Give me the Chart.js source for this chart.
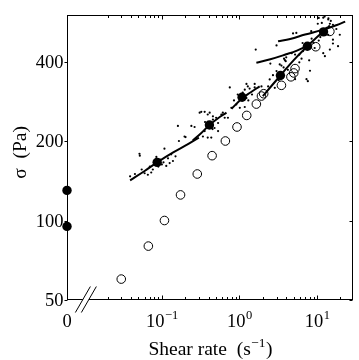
<!DOCTYPE html>
<html><head><meta charset="utf-8">
<script src="https://cdn.jsdelivr.net/npm/chart.js@4.4.1/dist/chart.umd.min.js"></script>
<style>html,body{margin:0;padding:0;background:#fff;} canvas{display:block;}</style>
</head><body>
<canvas id="c" width="359" height="360"></canvas>
<script>
// ---- axis ranges & ticks ----
const X_MIN = 0.006, X_MAX = 29;      // x = 0 is drawn at X_MIN (broken axis)
const Y_MIN = 50, Y_MAX = 600;
const BREAK_AT = 0.0105;               // position of the "//" axis break
const xMajorTicks = [0.1, 1, 10];
const xMajorLabels = [['10', '\u22121'], ['10', '0'], ['10', '1']];
const xZeroLabel = '0';
const xMinorTicks = [0.02,0.03,0.04,0.05,0.06,0.07,0.08,0.09,0.2,0.3,0.4,0.5,0.6,0.7,0.8,0.9,2,3,4,5,6,7,8,9,20];
const yTicks = [50, 100, 200, 400];
const yTickLabels = ['50', '100', '200', '400'];

// ---- data ----
// steady-state flow curve (open circles)
const openX = [0.030,0.067,0.108,0.174,0.286,0.444,0.658,0.929,1.24,1.65,1.92,2.05,3.47,4.6,5.0,5.2,9.6,14.6];
const openY = [60,80,100,125,150,176,200,226,250,276,296,302,325,350,362,376,455,520];
// averaged values (filled circles), x = 0 -> yield stresses
const filledX = [0,0,0.087,0.41,1.08,3.37,7.5,12.1];
const filledY = [130,95,166,230,293,354,457,518];
// fitted curves
const fitA = [[0.039,142],[0.06,154],[0.087,166],[0.14,181],[0.22,195],[0.3,206]];
const fitB = [[0.25,201],[0.32,214],[0.41,230],[0.53,244],[0.68,256]];
const fitC = [[0.79,265],[1.08,290],[1.4,306],[1.82,322]];
const fitD = [[2.0,296],[3.37,354],[5,405],[7.5,457],[10,495],[14.6,548]];
const fitE = [[1.65,396],[2.5,408],[4,426],[5.5,440],[7.3,457]];
const fitF = [[3.14,477],[4.5,487],[7,506],[12,528],[18,550],[23,566]];
// raw measurements (small dots)
const rawDots = [
 [0.039,147],[0.045,150],[0.052,176],[0.0515,179],[0.055,156],[0.06,151],[0.066,149],[0.07,160],[0.073,152],[0.0765,156],
 [0.085,174],[0.09,160],[0.095,170],[0.1,163],[0.105,166],[0.108,187],[0.114,161],[0.12,172],[0.126,165],[0.132,178],
 [0.139,168],[0.15,175],[0.161,228],[0.166,200],[0.202,207],[0.24,228],
 [0.196,208],[0.264,226],[0.307,256],[0.322,258],[0.338,208],[0.356,218],[0.356,258],[0.39,206],[0.39,252],[0.413,256],
 [0.433,206],[0.455,248],[0.455,241],[0.477,224],[0.50,245],[0.53,234],[0.53,218],[0.584,252],[0.61,256],[0.645,245],
 [0.71,245],[0.36,236],[0.45,222],
 [0.75,319],[0.786,267],[0.91,275],[1.01,267],[1.17,313],[1.17,269],[1.23,291],[1.23,329],[1.28,322],[1.35,316],
 [1.57,319],[1.57,329],[1.92,322],[0.95,300],[1.1,305],[1.3,285],[1.45,300],[0.85,285],
 [1.62,444],[2.34,322],[2.45,342],[2.5,393],[2.85,318],[3.0,368],[3.0,460],[3.3,390],[3.47,386],[3.7,380],
 [3.75,410],[3.84,405],[3.94,401],[4.0,415],[4.7,430],[5.2,425],[5.2,343],[5.9,425],[6.3,410],[7.3,343],
 [7.6,337],[8.1,369],[2.7,355],[3.2,340],[4.2,372],
 [4.9,511],[5.4,513],[5.9,397],[6.6,438],[7.6,450],[7.9,404],[8.4,521],[9.3,450],[10.2,556],[12.0,586],
 [12,430],[12.6,419],[13.2,536],[13.9,577],[13.9,505],[14.6,556],[14.6,444],[15,570],[16,551],[16,468],
 [16,484],[17.7,531],[18.6,457],[19.6,505],[10.5,480],[11,495],[9,470],[8.5,488],[6.5,470],[11.5,560],
 [10.5,585],[12.5,592],[14,583]
];

// ---- build datasets ----
const mapX = x => (x === 0 ? X_MIN : x);
const pts = arr => arr.map(([x, y]) => ({x: mapX(x), y}));
const zipXY = (xs, ys) => xs.map((x, i) => ({x: mapX(x), y: ys[i]}));
const curve = arr => ({data: pts(arr), showLine: true, pointRadius: 0, borderColor: '#000',
  borderWidth: 2, tension: 0.4, fill: false});

const SERIF = '"Liberation Serif", "Times New Roman", serif';

const axesPlugin = {
  id: 'matlabAxes',
  beforeDatasetsDraw(chart) {
    const {ctx, chartArea: a} = chart;
    ctx.save();
    ctx.strokeStyle = '#000';
    ctx.lineWidth = 1;
    ctx.strokeRect(Math.round(a.left) + 0.5, Math.round(a.top) + 0.5,
      Math.round(a.right - a.left) - 1, Math.round(a.bottom - a.top) - 1);
    ctx.restore();
  },
  afterDatasetsDraw(chart) {
    const {ctx, chartArea: a, scales: {x, y}} = chart;
    const L = Math.round(a.left) + 0.5, R = Math.round(a.right) - 0.5;
    const T = Math.round(a.top) + 0.5, B = Math.round(a.bottom) - 0.5;
    ctx.save();
    ctx.strokeStyle = '#000';
    ctx.lineWidth = 1;
    ctx.beginPath();
    // x ticks, bottom & top, inward
    const xt = (v, len) => {
      const px = Math.round(x.getPixelForValue(v)) + 0.5;
      ctx.moveTo(px, B); ctx.lineTo(px, B - len);
      ctx.moveTo(px, T); ctx.lineTo(px, T + len);
    };
    xMajorTicks.forEach(v => xt(v, 4));
    xMinorTicks.forEach(v => xt(v, 2.5));
    // y ticks: left outward, right inward
    yTicks.forEach(v => {
      const py = Math.round(y.getPixelForValue(v)) + 0.5;
      ctx.moveTo(L, py); ctx.lineTo(L - 3, py);
      ctx.moveTo(R, py); ctx.lineTo(R - 3, py);
    });
    ctx.stroke();

    // axis break "//"
    const bx = x.getPixelForValue(BREAK_AT);
    const dx = 7.5, dy = 13, gap = 3;
    ctx.fillStyle = '#fff';
    ctx.beginPath();
    ctx.moveTo(bx - gap + dx * 0.2, B - 2.5); ctx.lineTo(bx + gap + dx * 0.2, B - 2.5);
    ctx.lineTo(bx + gap - dx * 0.2, B + 2.5); ctx.lineTo(bx - gap - dx * 0.2, B + 2.5);
    ctx.closePath(); ctx.fill();
    ctx.beginPath();
    [-gap, gap].forEach(o => {
      ctx.moveTo(bx + o + dx, B - dy); ctx.lineTo(bx + o - dx, B + dy);
    });
    ctx.lineWidth = 1;
    ctx.stroke();

    // tick labels
    ctx.fillStyle = '#000';
    const TF = 18.5, SF = 12.5;
    ctx.textBaseline = 'alphabetic';
    // x labels
    const xBase = B + 27;
    ctx.font = TF + 'px ' + SERIF;
    ctx.textAlign = 'center';
    ctx.fillText(xZeroLabel, x.getPixelForValue(X_MIN), xBase);
    xMajorTicks.forEach((v, i) => {
      const [b, s] = xMajorLabels[i];
      ctx.font = TF + 'px ' + SERIF; const wb = ctx.measureText(b).width;
      ctx.font = SF + 'px ' + SERIF; const ws = ctx.measureText(s).width;
      const start = x.getPixelForValue(v) - (wb + ws) / 2;
      ctx.textAlign = 'left';
      ctx.font = TF + 'px ' + SERIF; ctx.fillText(b, start, xBase);
      ctx.font = SF + 'px ' + SERIF; ctx.fillText(s, start + wb + 0.5, xBase - 8);
    });
    // y labels
    ctx.font = TF + 'px ' + SERIF;
    ctx.textAlign = 'right';
    ctx.textBaseline = 'middle';
    yTicks.forEach((v, i) => {
      ctx.fillText(yTickLabels[i], L - 4, y.getPixelForValue(v) + 1.5);
    });

    // axis titles
    const HF = 19.5, HS = 13.5;
    ctx.textBaseline = 'alphabetic';
    const t1 = 'Shear rate  (s', t2 = '\u22121', t3 = ')';
    ctx.font = HF + 'px ' + SERIF; const w1 = ctx.measureText(t1).width, w3 = ctx.measureText(t3).width;
    ctx.font = HS + 'px ' + SERIF; const w2 = ctx.measureText(t2).width;
    const cx = (a.left + a.right) / 2;
    let sx = cx - (w1 + w2 + w3) / 2;
    const tb = 355;
    ctx.textAlign = 'left';
    ctx.font = HF + 'px ' + SERIF; ctx.fillText(t1, sx, tb);
    ctx.font = HS + 'px ' + SERIF; ctx.fillText(t2, sx + w1 + 0.5, tb - 8);
    ctx.font = HF + 'px ' + SERIF; ctx.fillText(t3, sx + w1 + w2 + 1, tb);

    ctx.translate(21, (a.top + a.bottom) / 2 - 5);
    ctx.rotate(-Math.PI / 2);
    ctx.textAlign = 'center';
    ctx.textBaseline = 'middle';
    ctx.font = HF + 'px ' + SERIF;
    ctx.fillText('\u03c3  (Pa)', 0, 0);
    ctx.restore();
  }
};

new Chart(document.getElementById('c'), {
  type: 'scatter',
  data: {
    datasets: [
      {label: 'raw', data: pts(rawDots), pointRadius: 1.1, pointBackgroundColor: '#000', pointBorderWidth: 0, borderWidth: 0},
      Object.assign({label: 'fit A'}, curve(fitA)),
      Object.assign({label: 'fit B'}, curve(fitB)),
      Object.assign({label: 'fit C'}, curve(fitC)),
      Object.assign({label: 'fit D'}, curve(fitD)),
      Object.assign({label: 'fit E'}, curve(fitE)),
      Object.assign({label: 'fit F'}, curve(fitF)),
      {label: 'steady', data: zipXY(openX, openY), pointRadius: 4.3, pointBackgroundColor: 'rgba(0,0,0,0)',
       pointBorderColor: '#000', pointBorderWidth: 1},
      {label: 'mean', data: zipXY(filledX, filledY), pointRadius: 4.7, pointBackgroundColor: '#000',
       pointBorderWidth: 0, clip: false}
    ]
  },
  options: {
    responsive: false,
    animation: false,
    devicePixelRatio: 1,
    layout: {padding: {left: 67, right: 6, top: 15, bottom: 60}},
    plugins: {legend: {display: false}, tooltip: {enabled: false}},
    scales: {
      x: {type: 'logarithmic', min: X_MIN, max: X_MAX, display: false},
      y: {type: 'logarithmic', min: Y_MIN, max: Y_MAX, display: false}
    }
  },
  plugins: [axesPlugin]
});
</script>
</body></html>
